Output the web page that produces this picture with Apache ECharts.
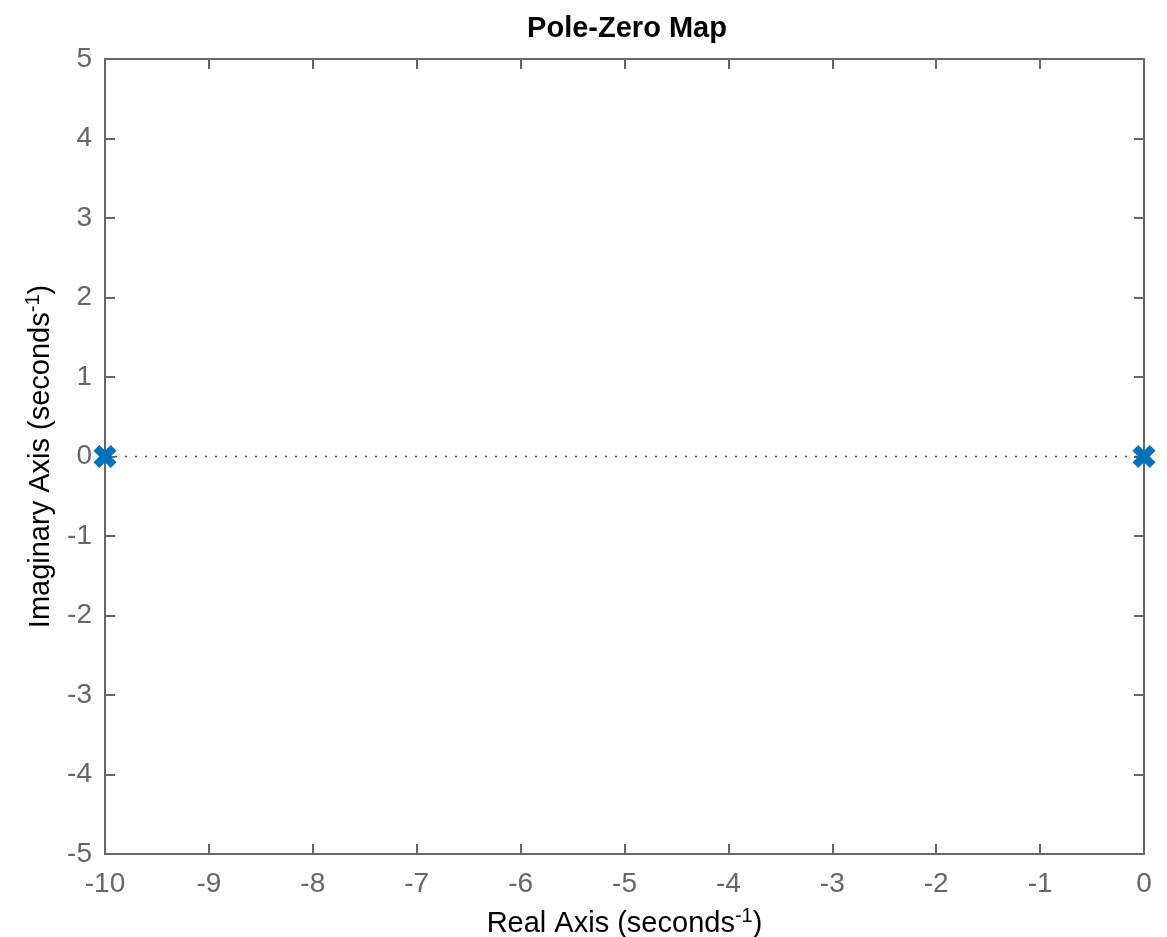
<!DOCTYPE html>
<html>
<head>
<meta charset="utf-8">
<script src="https://cdn.jsdelivr.net/npm/echarts@6/dist/echarts.min.js"></script>
<style>
  html, body { margin: 0; padding: 0; background: #fff; }
  #chart { width: 1167px; height: 937px; }
</style>
</head>
<body>
<div id="chart"></div>
<script>
// Datos: polos del sistema
const poleRe = [-10, 0];
const poleIm = [0, 0];
// Rango de ejes
const xRange = [-10, 0];
const yRange = [-5, 5];

const axisGray = '#666666';
const font = 'Liberation Sans, Arial, Helvetica, sans-serif';
const crossPath = 'path://M2.5,0 L5,2.5 L7.5,0 L10,2.5 L7.5,5 L10,7.5 L7.5,10 L5,7.5 L2.5,10 L0,7.5 L2.5,5 L0,2.5 Z';

const chart = echarts.init(document.getElementById('chart'));

function axisBase(show, margin) {
    return {
        axisLine: { show: true, onZero: false, lineStyle: { color: axisGray, width: 2 } },
        axisTick: { show: true, inside: true, length: 10, lineStyle: { color: axisGray, width: 2 } },
        axisLabel: { show: show, color: axisGray, fontSize: 28, fontFamily: font, margin: margin },
        splitLine: { show: false }
    };
}

const nameRich = {
    n: { fontSize: 29, color: '#000', fontFamily: font },
    s: { fontSize: 20, color: '#000', fontFamily: font, verticalAlign: 'top', padding: [0, 0, 16, 0] }
};

chart.setOption({
    animation: false,
    title: {
        text: 'Pole-Zero Map',
        left: 622,
        textAlign: 'center',
        top: 9,
        textStyle: { fontSize: 29, fontWeight: 'bold', color: '#000', fontFamily: font }
    },
    grid: { left: 105, right: 23, top: 59, bottom: 83, outerBoundsMode: 'none' },
    xAxis: [
        Object.assign(axisBase(true, 16), {
            type: 'value', position: 'bottom', min: xRange[0], max: xRange[1], interval: 1,
            name: '{n|Real Axis (seconds}{s|-1}{n|)}',
            nameLocation: 'middle', nameGap: 52,
            nameTextStyle: { rich: nameRich }
        }),
        Object.assign(axisBase(false, 8), {
            type: 'value', position: 'top', min: xRange[0], max: xRange[1], interval: 1
        })
    ],
    yAxis: [
        Object.assign(axisBase(true, 13), {
            type: 'value', position: 'left', min: yRange[0], max: yRange[1], interval: 1,
            name: '{n|Imaginary Axis (seconds}{s|-1}{n|)}',
            nameLocation: 'middle', nameGap: 46,
            nameTextStyle: { rich: nameRich }
        }),
        Object.assign(axisBase(false, 8), {
            type: 'value', position: 'right', min: yRange[0], max: yRange[1], interval: 1
        })
    ],
    series: [
        {
            // linea punteada en eje real
            type: 'line',
            data: [[xRange[0], 0], [xRange[1], 0]],
            symbol: 'none',
            lineStyle: { color: '#444', width: 1.5, type: [2, 8] },
            z: 1
        },
        {
            type: 'scatter',
            data: poleRe.map((re, i) => [re, poleIm[i]]),
            symbol: crossPath,
            symbolSize: 23,
            clip: false,
            itemStyle: { color: '#0072BD', opacity: 1 },
            z: 5
        }
    ]
});
</script>
</body>
</html>
